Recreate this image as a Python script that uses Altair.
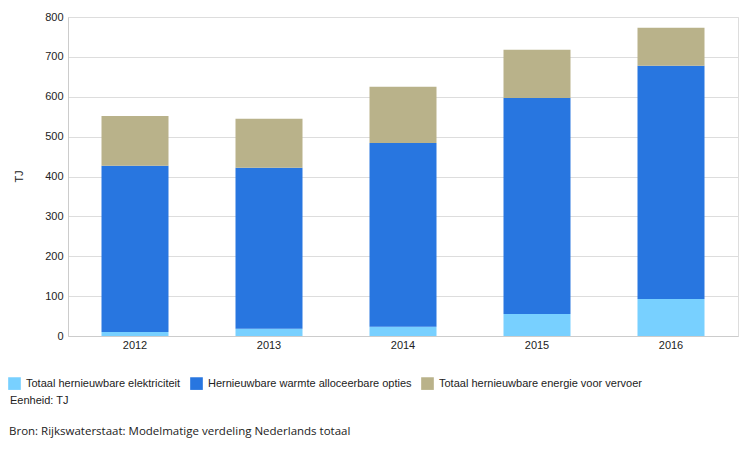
import altair as alt
import pandas as pd

years = ["2012", "2013", "2014", "2015", "2016"]
series = [
    "Totaal hernieuwbare elektriciteit",
    "Hernieuwbare warmte alloceerbare opties",
    "Totaal hernieuwbare energie voor vervoer",
]
elektriciteit = [10, 18, 23, 55, 93]
warmte = [417, 404, 461, 542, 585]
vervoer = [125, 123, 141, 121, 95]
colors = ["#78D0FF", "#2876E0", "#B9B28A"]

rows = []
for i, y in enumerate(years):
    for k, (s, vals) in enumerate(zip(series, [elektriciteit, warmte, vervoer])):
        rows.append({"jaar": y, "reeks": s, "waarde": vals[i], "volgorde": k})
df = pd.DataFrame(rows)

bars = alt.Chart(df).mark_bar().encode(
    x=alt.X("jaar:N", sort=years, title=None,
            scale=alt.Scale(paddingInner=0.5, paddingOuter=0.25),
            axis=alt.Axis(labelAngle=0, labelFont="Liberation Sans", labelFontSize=11,
                          labelColor="#222", ticks=False, domainColor="#cccccc",
                          labelPadding=3)),
    y=alt.Y("waarde:Q", stack="zero", title="TJ",
            scale=alt.Scale(domain=[0, 800], nice=False),
            axis=alt.Axis(values=list(range(0, 801, 100)), labelFont="Liberation Sans",
                          labelFontSize=11, labelColor="#222", ticks=False,
                          domainColor="#cccccc", gridColor="#dddddd", labelPadding=5,
                          titleFont="Liberation Sans", titleFontSize=11,
                          titleFontWeight="normal", titleColor="#222",
                          titleX=-44, titleY=159, titleAngle=-90, titleAlign="center")),
    color=alt.Color("reeks:N", sort=series,
                    scale=alt.Scale(domain=series, range=colors),
                    legend=alt.Legend(title=None, orient="none", direction="horizontal",
                                      legendX=-60, legendY=360, symbolType="square",
                                      symbolSize=160, symbolStrokeWidth=0,
                                      labelFont="Liberation Sans", labelFontSize=11,
                                      labelColor="#222", labelOffset=5, columnPadding=9,
                                      padding=0, labelLimit=400)),
    order=alt.Order("volgorde:Q", sort="ascending"),
)

eenheid = alt.Chart(pd.DataFrame({"t": ["Eenheid: TJ"]})).mark_text(
    align="left", baseline="middle", font="Liberation Sans", fontSize=11, color="#222"
).encode(text="t:N", x=alt.value(-58), y=alt.value(384))

bron = alt.Chart(pd.DataFrame({"t": ["Bron: Rijkswaterstaat: Modelmatige verdeling Nederlands totaal"]})).mark_text(
    align="left", baseline="middle", font="Open Sans", fontSize=11.5, color="#222"
).encode(text="t:N", x=alt.value(-59), y=alt.value(415))

chart = alt.layer(bars, eenheid, bron).properties(
    width=670, height=319, autosize="none",
    padding={"left": 60, "top": 9, "right": 3, "bottom": 106},
).configure_view(stroke="#dddddd")

chart.save("out.html", embed_options={"renderer": "svg", "actions": False})
